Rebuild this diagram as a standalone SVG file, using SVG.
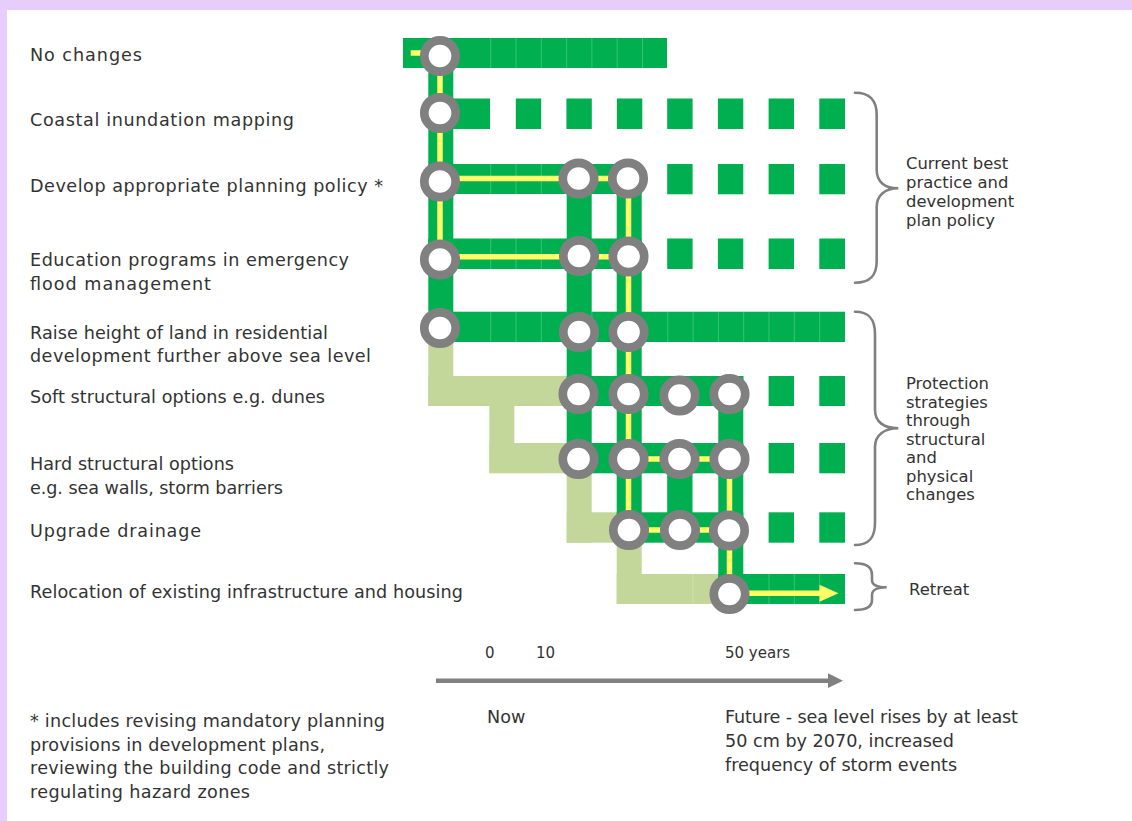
<svg xmlns="http://www.w3.org/2000/svg" width="1132" height="821" viewBox="0 0 1132 821">
<defs>
<style>
.dg{fill:#00b050}
.lg{fill:#c4d79b}
.yl{stroke:#ffff66;stroke-width:5.5;fill:none}
.rg{fill:#ffffff;stroke:#808080;stroke-width:8.7}
.dv{stroke:#ffffff;stroke-opacity:0.22;stroke-width:1}
.br{fill:none;stroke:#808080;stroke-width:2.6;stroke-linecap:round}
.t{font-family:"DejaVu Sans","Liberation Sans",sans-serif;font-size:17.6px;fill:#333333}
.ts{font-family:"DejaVu Sans","Liberation Sans",sans-serif;font-size:16.4px;fill:#333333}
.tx{font-family:"DejaVu Sans","Liberation Sans",sans-serif;font-size:15px;fill:#333333}
</style>
</defs>
<rect x="0" y="0" width="1132" height="821" fill="#ffffff"/>
<rect x="0" y="0" width="1132" height="10" fill="#e6cdfc"/>
<rect x="0" y="0" width="7" height="821" fill="#e6cdfc"/>

<g id="connectors">
  <!-- light green (inactive) paths -->
  <rect class="lg" x="428.3" y="342" width="25" height="64"/>
  <rect class="lg" x="428.3" y="376" width="138.4" height="30"/>
  <rect class="lg" x="489.3" y="406" width="25" height="67"/>
  <rect class="lg" x="489.3" y="443" width="77.4" height="30.3"/>
  <rect class="lg" x="566.7" y="473" width="25" height="69.7"/>
  <rect class="lg" x="566.7" y="512.3" width="50" height="30.4"/>
  <rect class="lg" x="616.7" y="542.7" width="25" height="61.3"/>
  <rect class="lg" x="616.7" y="574" width="101.6" height="30"/>

  <!-- dark green bars -->
  <rect class="dg" x="403" y="38" width="264" height="30"/>
  <rect class="dg" x="428.3" y="38" width="25" height="304"/>
  <rect class="dg" x="428.3" y="98.5" width="61.7" height="30.5"/>
  <rect class="dg" x="428.3" y="164" width="213.4" height="30"/>
  <rect class="dg" x="428.3" y="238.5" width="213.4" height="30.5"/>
  <rect class="dg" x="428.3" y="311.7" width="416.7" height="30.3"/>
  <rect class="dg" x="566.7" y="164" width="25" height="309"/>
  <rect class="dg" x="616.7" y="164" width="25" height="378.7"/>
  <rect class="dg" x="566.7" y="376" width="176.6" height="30"/>
  <rect class="dg" x="566.7" y="443" width="176.6" height="30.3"/>
  <rect class="dg" x="616.7" y="512.3" width="126.6" height="30.4"/>
  <rect class="dg" x="718.3" y="376" width="25" height="228"/>
  <rect class="dg" x="667.2" y="443" width="25.3" height="99.7"/>
  <rect class="dg" x="718.3" y="574" width="126.7" height="30"/>

  <!-- dashed (square) continuations -->
  <g class="dg">
    <rect x="515.8" y="98.5" width="25.4" height="30.5"/>
    <rect x="566.4" y="98.5" width="25.4" height="30.5"/>
    <rect x="616.9" y="98.5" width="25.4" height="30.5"/>
    <rect x="667.2" y="98.5" width="25.4" height="30.5"/>
    <rect x="717.9" y="98.5" width="25.4" height="30.5"/>
    <rect x="768.6" y="98.5" width="25.4" height="30.5"/>
    <rect x="819.3" y="98.5" width="25.7" height="30.5"/>
    <rect x="667.2" y="164" width="25.4" height="30.3"/>
    <rect x="717.9" y="164" width="25.4" height="30.3"/>
    <rect x="768.6" y="164" width="25.4" height="30.3"/>
    <rect x="819.3" y="164" width="25.7" height="30.3"/>
    <rect x="667.2" y="238.5" width="25.4" height="30.5"/>
    <rect x="717.9" y="238.5" width="25.4" height="30.5"/>
    <rect x="768.6" y="238.5" width="25.4" height="30.5"/>
    <rect x="819.3" y="238.5" width="25.7" height="30.5"/>
    <rect x="768.6" y="376" width="25.4" height="30"/>
    <rect x="819.3" y="376" width="25.7" height="30"/>
    <rect x="768.6" y="443" width="25.4" height="30.3"/>
    <rect x="819.3" y="443" width="25.7" height="30.3"/>
    <rect x="768.6" y="512.3" width="25.4" height="30.4"/>
    <rect x="819.3" y="512.3" width="25.7" height="30.4"/>
  </g>

  <!-- faint cell dividers -->
  <path class="dv" d="M490.7,38v30M516,38v30M541.3,38v30M566.6,38v30M591.9,38v30M617.2,38v30M642.5,38v30
    M490.7,311.7v30.3M516,311.7v30.3M541.3,311.7v30.3M591.9,311.7v30.3M667.8,311.7v30.3M693.1,311.7v30.3M718.4,311.7v30.3M743.7,311.7v30.3M769,311.7v30.3M794.3,311.7v30.3M819.6,311.7v30.3
    M490.7,164v30M516,164v30M541.3,164v30M490.7,238.5v30.5M516,238.5v30.5M541.3,238.5v30.5
    M693.1,574v30M769,574v30M794.3,574v30M819.6,574v30"/>

  <!-- yellow active pathway -->
  <path class="yl" d="M410.7,53 H440 V259.5"/>
  <path class="yl" d="M440,178.5 H628.5"/>
  <path class="yl" d="M440,256.7 H628.5"/>
  <path class="yl" d="M628.5,178.5 V530"/>
  <path class="yl" d="M628.5,459 H729.5"/>
  <path class="yl" d="M629,530 H729"/>
  <path class="yl" d="M729.5,459 V593.3 H821"/>
  <polygon points="819.5,584.8 838.5,593.3 819.5,601.8" fill="#ffff66"/>
</g>

<g id="nodes">
  <g id="n-r1"><circle class="rg" cx="440" cy="56" r="15.7"/></g>
  <g id="n-r2"><circle class="rg" cx="440" cy="113" r="15.7"/></g>
  <g id="n-r3">
    <circle class="rg" cx="440" cy="181.5" r="15.7"/>
    <circle class="rg" cx="578.5" cy="178.5" r="15.7"/>
    <circle class="rg" cx="628" cy="178.5" r="15.7"/>
  </g>
  <g id="n-r4">
    <circle class="rg" cx="440" cy="259.5" r="15.7"/>
    <circle class="rg" cx="579" cy="256" r="15.7"/>
    <circle class="rg" cx="628.5" cy="256.5" r="15.7"/>
  </g>
  <g id="n-r5">
    <circle class="rg" cx="440" cy="328" r="15.7"/>
    <circle class="rg" cx="579" cy="332" r="15.7"/>
    <circle class="rg" cx="628.5" cy="332" r="15.7"/>
  </g>
  <g id="n-r6">
    <circle class="rg" cx="578.5" cy="394" r="15.7"/>
    <circle class="rg" cx="628.5" cy="394" r="15.7"/>
    <circle class="rg" cx="679.5" cy="395.5" r="15.7"/>
    <circle class="rg" cx="729.5" cy="394" r="15.7"/>
  </g>
  <g id="n-r7">
    <circle class="rg" cx="578.5" cy="459" r="15.7"/>
    <circle class="rg" cx="628.5" cy="459" r="15.7"/>
    <circle class="rg" cx="679.5" cy="459" r="15.7"/>
    <circle class="rg" cx="729.5" cy="459" r="15.7"/>
  </g>
  <g id="n-r8">
    <circle class="rg" cx="629" cy="530" r="15.7"/>
    <circle class="rg" cx="680" cy="530" r="15.7"/>
    <circle class="rg" cx="729" cy="530.5" r="15.7"/>
  </g>
  <g id="n-r9"><circle class="rg" cx="729.5" cy="594" r="15.7"/></g>
</g>

<g id="labels">
  <text class="t" x="30" y="61" textLength="112">No changes</text>
  <text class="t" x="30" y="126" textLength="264">Coastal inundation mapping</text>
  <text class="t" x="30" y="191.5" textLength="353">Develop appropriate planning policy *</text>
  <text class="t" x="30" y="266" textLength="319">Education programs in emergency</text>
  <text class="t" x="30" y="290" textLength="181">flood management</text>
  <text class="t" x="30" y="338.5" textLength="298">Raise height of land in residential</text>
  <text class="t" x="30" y="362" textLength="341">development further above sea level</text>
  <text class="t" x="30" y="403" textLength="295">Soft structural options e.g. dunes</text>
  <text class="t" x="30" y="470" textLength="204">Hard structural options</text>
  <text class="t" x="30" y="493.5" textLength="253">e.g. sea walls, storm barriers</text>
  <text class="t" x="30" y="536.5" textLength="171">Upgrade drainage</text>
  <text class="t" x="30" y="597.5" textLength="433">Relocation of existing infrastructure and housing</text>
</g>

<g id="groups">
  <path class="br" d="M855,92.7 C870,92.7 876.7,100 876.7,115 L876.7,170 C876.7,182 885,188.3 898.3,188.3 C885,188.3 876.7,195 876.7,207 L876.7,261 C876.7,276 870,282.7 855,282.7"/>
  <text class="ts" x="906" y="169.3">Current best</text>
  <text class="ts" x="906" y="188.3">practice and</text>
  <text class="ts" x="906" y="207.3">development</text>
  <text class="ts" x="906" y="226.3">plan policy</text>

  <path class="br" d="M855,311.7 C869,311.7 875,319 875,334 L875,410 C875,422 884,428.3 898.3,428.3 C884,428.3 875,435 875,447 L875,523 C875,538 869,545 855,545"/>
  <text class="ts" x="906" y="389.3">Protection</text>
  <text class="ts" x="906" y="407.8">strategies</text>
  <text class="ts" x="906" y="426.3">through</text>
  <text class="ts" x="906" y="444.8">structural</text>
  <text class="ts" x="906" y="463.3">and</text>
  <text class="ts" x="906" y="481.8">physical</text>
  <text class="ts" x="906" y="500.3">changes</text>

  <path class="br" d="M855,563.3 C866,563.3 872,567 872,575 L872,580 C872,585 878,587.3 886.7,587.3 C878,587.3 872,590 872,595 L872,600 C872,607 866,610 855,610"/>
  <text class="ts" x="909" y="595">Retreat</text>
</g>

<g id="timeline">
  <text class="tx" x="485" y="658">0</text>
  <text class="tx" x="536" y="658">10</text>
  <text class="tx" x="725" y="658">50 years</text>
  <line x1="436" y1="680.7" x2="829" y2="680.7" stroke="#808080" stroke-width="4.5"/>
  <polygon points="828,673.3 843,680.7 828,688.1" fill="#808080"/>
  <text class="t" x="487" y="723.3">Now</text>
  <text class="t" x="725" y="723.3" textLength="293">Future - sea level rises by at least</text>
  <text class="t" x="725" y="747">50 cm by 2070, increased</text>
  <text class="t" x="725" y="770.7">frequency of storm events</text>
</g>

<g id="footnote">
  <text class="t" x="30" y="727" textLength="355">* includes revising mandatory planning</text>
  <text class="t" x="30" y="750.5" textLength="295">provisions in development plans,</text>
  <text class="t" x="30" y="774" textLength="359">reviewing the building code and strictly</text>
  <text class="t" x="30" y="797.5" textLength="220">regulating hazard zones</text>
</g>
</svg>
